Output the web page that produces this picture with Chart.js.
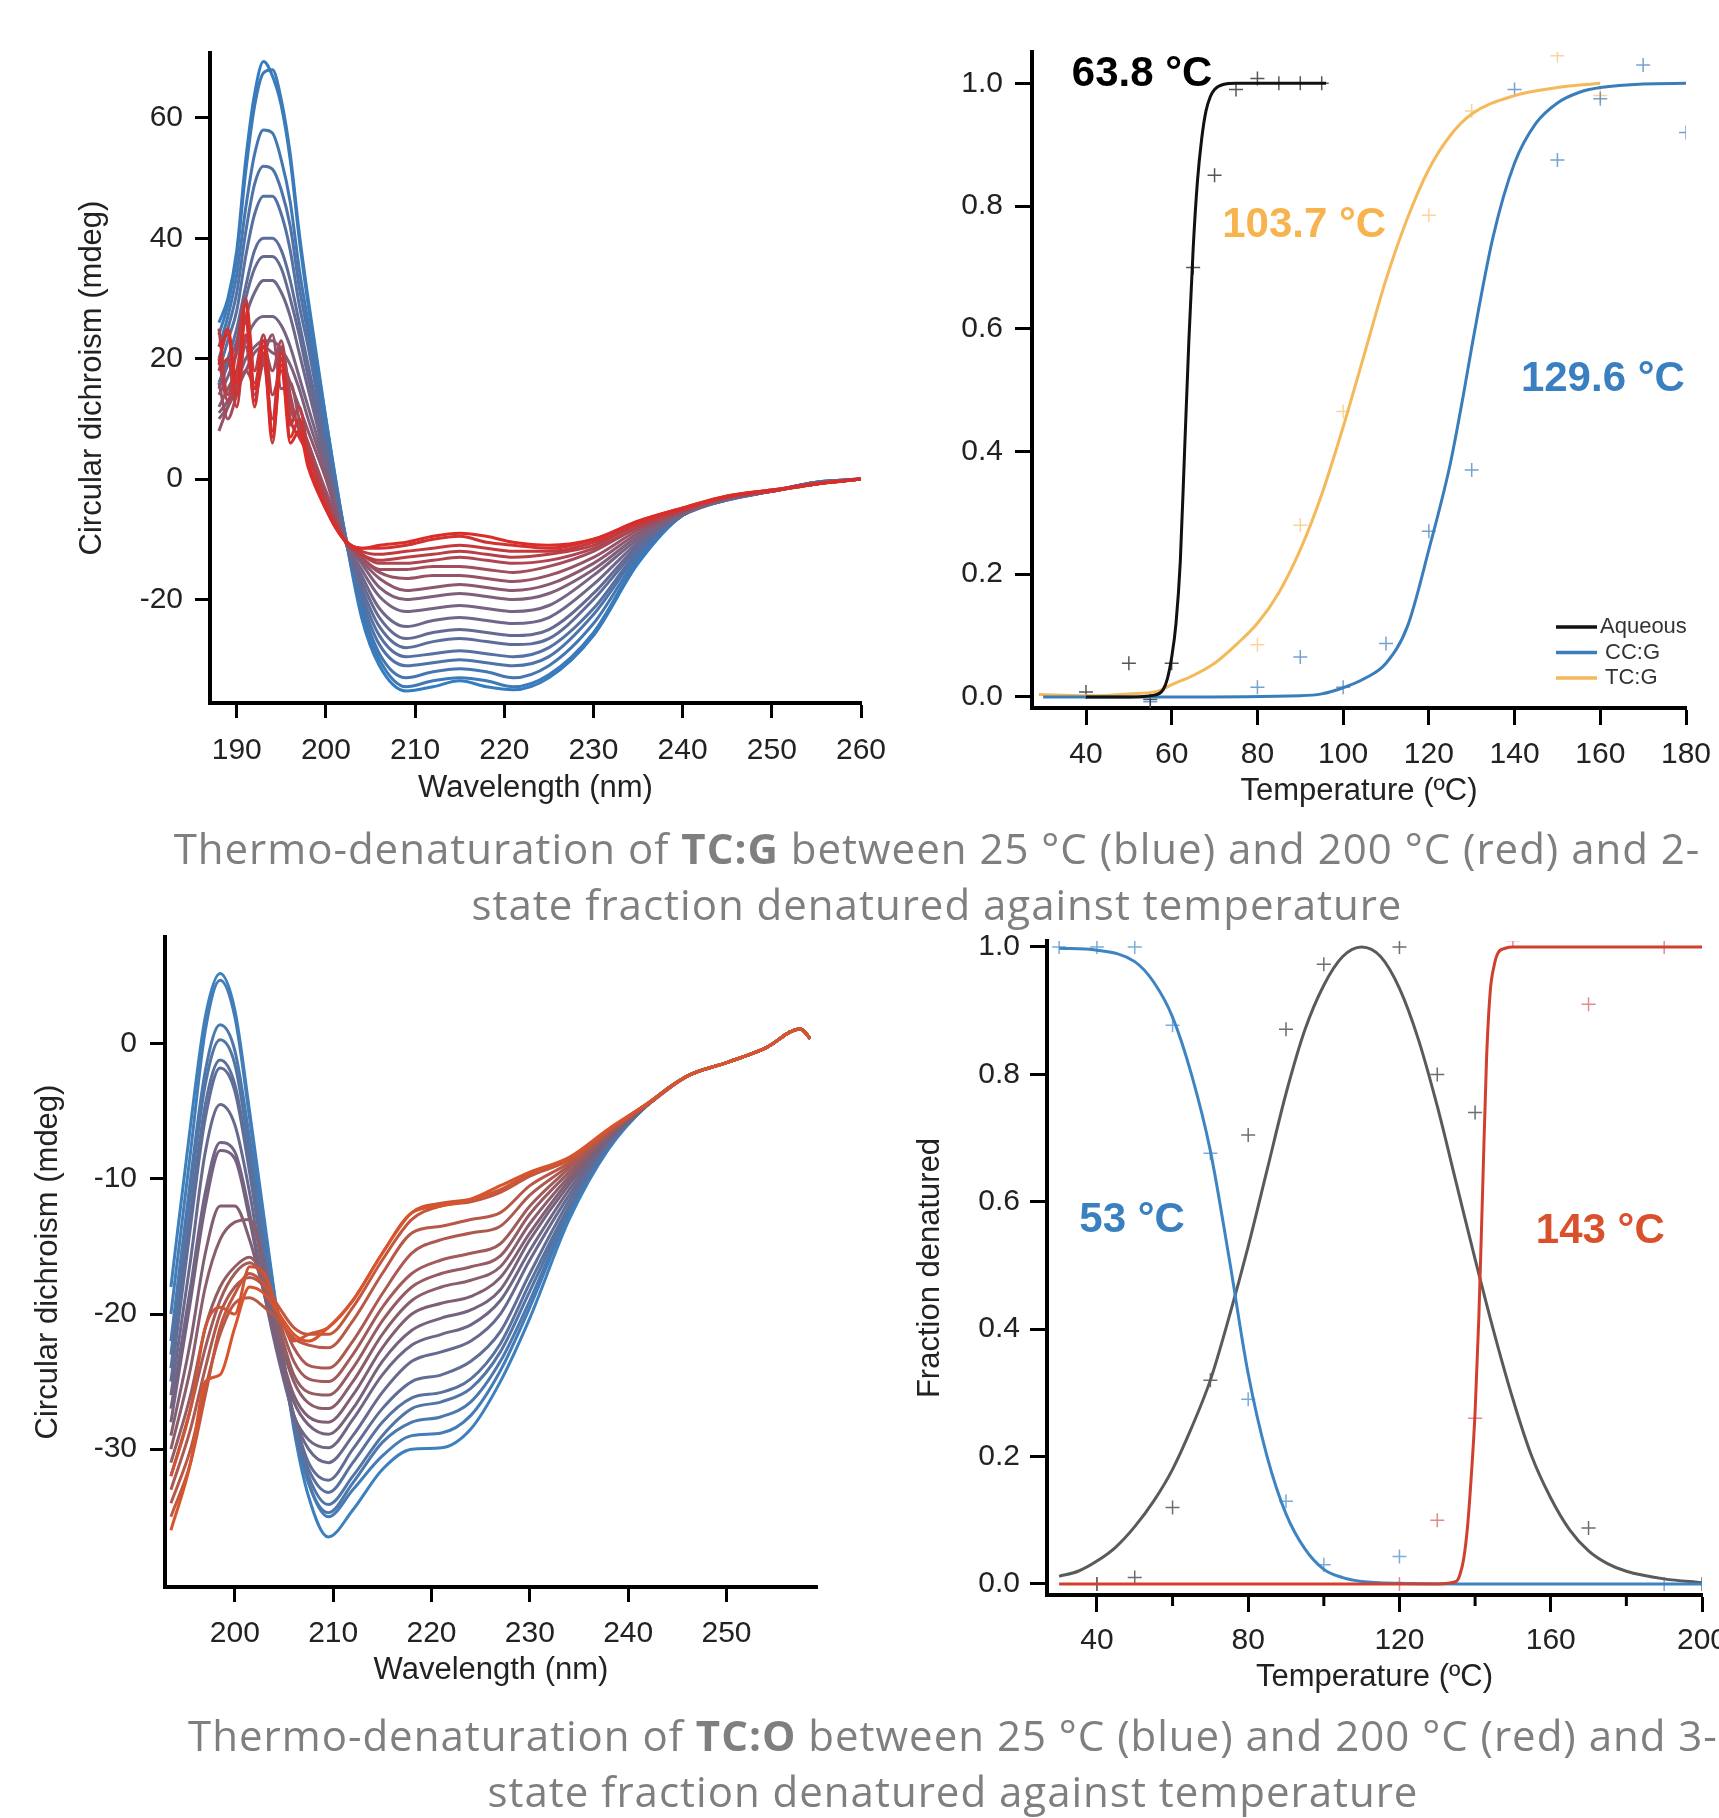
<!DOCTYPE html>
<html>
<head>
<meta charset="utf-8">
<script src="https://cdn.jsdelivr.net/npm/chart.js@4.4.1/dist/chart.umd.min.js"></script>
<style>
  html, body { margin: 0; padding: 0; background: #fff; overflow: hidden; }
  body { position: relative; width: 1719px; height: 1818px; }
  canvas { position: absolute; }
  .caption {
    position: absolute; left: 0; text-align: center; white-space: nowrap;
    font-family: "Open Sans", "Noto Sans", sans-serif; font-size: 42px; line-height: 56px;
    letter-spacing: 1px; color: #7f7f7f;
  }
  .caption b { font-weight: 700; }
</style>
</head>
<body>
<canvas id="tcgSpectraChart" width="900" height="810" style="left:0;top:0"></canvas>
<canvas id="tcgMeltChart" width="819" height="810" style="left:900px;top:0"></canvas>
<canvas id="tcoSpectraChart" width="850" height="810" style="left:0;top:900px"></canvas>
<canvas id="tcoMeltChart" width="839" height="810" style="left:880px;top:900px"></canvas>

<div class="caption" style="top:820px;width:1874px">Thermo-denaturation of <b>TC:G</b> between 25 °C (blue) and 200 °C (red) and 2-<br>state fraction denatured against temperature</div>
<div class="caption" style="top:1707px;width:1906px">Thermo-denaturation of <b>TC:O</b> between 25 °C (blue) and 200 °C (red) and 3-<br>state fraction denatured against temperature</div>

<script>
// ---- TC:G CD spectra (25 °C blue -> 200 °C red) ----
const tcgWavelengths = [188,189,190,191,192,193,194,195,196,197,198,200,202,204,206,209,212,215,218,221,225,230,235,240,245,250,255,260];
const tcgSpectra = [
  [26,30,38,53,64,69.4,67,62,53,40,29,10,-8,-23,-31,-35.2,-34.5,-33.5,-34.5,-35,-33,-26,-14,-6,-3.5,-2,-0.5,0],
  [24,29,37,51,62,67.5,68,63,54,41,30,10,-8,-22,-30,-34.5,-33.5,-33,-33.5,-34.5,-32.5,-25.5,-13.5,-6,-3.5,-2,-0.5,0],
  [22,27,34,45,54,58,57.5,53,46,35,26,8,-8,-21,-29,-33,-32,-31.5,-32,-33,-31,-24,-13,-6,-3.4,-2,-0.5,0],
  [20,25,31,41,49,52,51.5,48,42,32,24,7,-8.5,-20,-27.5,-31,-30.5,-30,-30.5,-31,-29.5,-22.5,-12.5,-6,-3.4,-2,-0.5,0],
  [18,23,28,37,44,47,47,44,38,29,22,6,-9,-19,-26,-29.5,-29,-28.5,-29,-29.5,-28,-21.5,-12,-6,-3.4,-2,-0.6,0],
  [16,20,25,32,38,40,40,38,33,26,19,5,-9,-18,-24.5,-28,-27,-26.5,-27,-27.5,-26.5,-20,-11.5,-6,-3.4,-2,-0.6,0],
  [15,19,23,30,35,37,37,35,30,24,17,4,-9.5,-17,-23,-26.5,-25.5,-25,-25.5,-26,-25,-19,-11,-6,-3.4,-2,-0.6,0],
  [14,17,21,27,31,33,33,31,27,21,15,3,-9.5,-16,-21.5,-24.5,-23.5,-23,-23.5,-24,-23,-17.5,-10.5,-5.8,-3.3,-2,-0.6,0],
  [12,15,18,23,26,27,27,25.5,22,17,12,2,-9.5,-15,-19.5,-22,-21.5,-21,-21.5,-22,-21,-16,-10,-5.7,-3.3,-2,-0.6,0],
  [11,13,16,20,22,23,23,21.5,19,15,10,1,-9.5,-14,-18,-20,-19.5,-19,-19.5,-20,-19,-15,-9.5,-5.6,-3.2,-2,-0.6,0],
  [10,12,15,18,21,22,21,20,16,12,8,0,-9.5,-13.5,-16.5,-18.5,-18,-17.5,-18,-18.5,-17.5,-14,-9,-5.5,-3.2,-2,-0.7,0],
  [8,12,16,22,14,20,24,15,16,10,6,-2,-9.5,-13,-15.5,-16.5,-16,-16,-16.5,-17,-16,-13,-8.5,-5.4,-3.1,-2,-0.8,0],
  [16,10,14,18,16,22,18,23,12,9,6,-3,-10,-13,-15,-15,-14.5,-14.5,-15,-15.5,-14.5,-12,-8,-5.3,-3,-2,-0.8,0],
  [20,13,18,26,15,19,10,22,14,8,5,-3.5,-10,-12.5,-14,-14,-13.5,-13,-13.5,-14,-13.5,-11.5,-8,-5.2,-3,-2,-0.8,0],
  [25,14,22,30,18,24,14,18,9,12,5,-4,-10,-12.5,-13.5,-13,-12.5,-12,-12.5,-13,-12.5,-11,-7.5,-5,-3,-2,-0.8,0],
  [18,20,12,24,13,21,6,20,10,7,4,-4.5,-10,-12,-12.5,-12,-11.5,-11,-11.5,-12,-12,-10.5,-7.5,-5,-2.9,-1.8,-0.8,0],
  [22,24,14,27,12,23,8,21,7,10,3,-5,-10,-11.5,-11.5,-11,-10,-9.5,-10.5,-11,-11.5,-10,-7,-4.8,-2.8,-1.8,-0.8,0],
  [19,25,16,29,15,22,7,19,6,8,2,-5,-10,-11.5,-11,-10.5,-9.5,-9,-9.5,-10.5,-11,-10,-7,-4.8,-2.8,-1.8,-0.8,0]
];
const tcgWlTicks = [190,200,210,220,230,240,250,260];
const tcgCdTicks = [-20,0,20,40,60];

// ---- TC:G / CC:G / aqueous 2-state melting ----
const aqueousFitT = [40,50,56,58,59,60,61,62,63,64,65,66,67,68,69,70,72,75,85,96];
const aqueousFitF = [0,0,0.003,0.012,0.03,0.065,0.12,0.22,0.4,0.58,0.73,0.84,0.91,0.955,0.978,0.99,0.998,1,1,1];
const aqueousPtsT = [40,50,55,60,65,70,75,80,85,90,95];
const aqueousPtsF = [0.008,0.055,-0.004,0.055,0.70,0.85,0.99,1.008,1.0,1.0,1.0];
const ccgFitT = [30,60,90,95,100,105,110,115,120,125,128,130,135,140,145,150,155,160,170,180];
const ccgFitF = [0,0,0.002,0.005,0.015,0.03,0.055,0.115,0.24,0.38,0.49,0.57,0.75,0.87,0.935,0.968,0.985,0.993,0.999,1];
const ccgPtsT = [55,80,90,100,110,120,130,140,150,160,170,180];
const ccgPtsF = [-0.008,0.016,0.065,0.016,0.087,0.27,0.37,0.99,0.875,0.975,1.03,0.92];
const tcgFitT = [29,40,50,57,60,65,70,75,80,85,90,95,100,105,110,115,120,125,130,140,150,160];
const tcgFitF = [0.004,0.002,0.005,0.01,0.02,0.035,0.055,0.085,0.12,0.17,0.24,0.33,0.44,0.56,0.68,0.78,0.86,0.915,0.95,0.98,0.993,1.0];
const tcgPtsT = [80,90,100,120,130,150,160];
const tcgPtsF = [0.085,0.28,0.465,0.785,0.955,1.045,0.98];
const meltTempTicksA = [40,60,80,100,120,140,160,180];
const fractionTicks = [0,0.2,0.4,0.6,0.8,1.0];

// ---- TC:O CD spectra ----
const tcoWavelengths = [193.5,195.5,197,198.5,200,201.5,203,204.5,206,207.5,209.5,212,215,218,221,224,227,230,234,238,242,246,250,254,257.5,258.5];
const tcoSpectra = [
  [-18,-6,2,5.2,2.5,-5,-13,-21,-28.5,-33.5,-36.5,-34.5,-31.5,-30,-29.9,-28.5,-25,-20.3,-13,-7.8,-4.5,-2.4,-1.4,-0.3,1.1,0.4],
  [-20,-8,1,4.7,2,-5.5,-13.5,-21,-28,-32.5,-35,-33,-30.5,-29,-28.8,-27.5,-24.2,-19.5,-12.6,-7.7,-4.5,-2.4,-1.4,-0.3,1.1,0.4],
  [-22,-10,-2,1.4,-0.5,-7,-14.5,-21.5,-28,-32.5,-34.7,-32.5,-29.5,-28,-27.6,-26.5,-23.5,-19,-12.4,-7.6,-4.5,-2.4,-1.4,-0.3,1.1,0.4],
  [-23,-11,-3,0.3,-1.5,-8,-15,-22,-28,-32,-34.1,-32,-29,-27,-26.5,-25.5,-22.8,-18.3,-12.2,-7.5,-4.5,-2.4,-1.4,-0.3,1.1,0.4],
  [-24,-12.5,-4.5,-1.2,-3,-9,-16,-22.5,-28,-31.5,-33.2,-31,-28,-26.2,-25.8,-24.8,-22.2,-17.7,-12,-7.4,-4.5,-2.4,-1.4,-0.3,1.1,0.4],
  [-25,-13.5,-5.5,-1.8,-3.5,-9.5,-16.5,-22.5,-27.5,-31,-32.3,-30,-27,-25,-24.5,-23.5,-21.3,-17,-11.6,-7.3,-4.5,-2.4,-1.4,-0.3,1.1,0.4],
  [-26,-16,-8,-4.5,-6,-11,-17.5,-23,-27.5,-30,-31,-29,-25.8,-23.5,-22.8,-22,-20,-16,-11.2,-7.2,-4.5,-2.4,-1.4,-0.3,1.1,0.4],
  [-27,-18,-11,-7.3,-8,-12.5,-18.5,-23.5,-27.5,-29.3,-29.9,-27.8,-24.5,-22.3,-21.5,-20.8,-19,-15.3,-10.8,-7.1,-4.5,-2.4,-1.4,-0.3,1.1,0.4],
  [-28,-19,-12,-7.9,-8.5,-13,-18.5,-23,-26.5,-28.2,-28.9,-27,-23.5,-21.2,-20.3,-19.7,-18.2,-14.5,-10.4,-7,-4.5,-2.4,-1.4,-0.3,1.1,0.4],
  [-29,-22,-15.5,-12,-12,-14.5,-18.5,-22.5,-26,-27.6,-28,-26,-22.5,-20,-19.2,-18.7,-17.3,-14,-10.1,-6.9,-4.5,-2.4,-1.4,-0.3,1.1,0.4],
  [-30,-24,-18,-14.5,-13.2,-13,-16.5,-21.5,-25,-26.6,-27,-25,-21.5,-19,-18,-17.5,-16.5,-13.3,-9.8,-6.8,-4.5,-2.4,-1.4,-0.3,1.1,0.4],
  [-31,-26,-21,-18,-16.5,-15.8,-17.5,-21,-24.5,-25.8,-26,-24,-20.5,-18,-17,-16.5,-15.7,-12.6,-9.5,-6.7,-4.5,-2.4,-1.4,-0.3,1.1,0.4],
  [-32,-27,-22.5,-19,-17,-16.2,-17.5,-20.5,-23.5,-24.8,-25,-23,-19.5,-17,-16,-15.5,-14.8,-12,-9.2,-6.6,-4.5,-2.4,-1.4,-0.3,1.1,0.4],
  [-33,-28.5,-24,-20,-18,-17.3,-18,-20,-22.5,-23.8,-24,-22,-18.5,-15.5,-14.5,-14,-13.5,-11.2,-9,-6.5,-4.4,-2.4,-1.4,-0.3,1.1,0.4],
  [-34,-30,-25.5,-21.5,-19.2,-18.8,-19.5,-20.5,-21.8,-22.3,-22.5,-20.5,-17,-14,-13.5,-13,-12.5,-10.5,-8.8,-6.5,-4.4,-2.4,-1.4,-0.3,1.1,0.4],
  [-35,-31,-26,-21,-18.5,-17,-17.8,-19.5,-21,-21.5,-21.5,-19.5,-16,-13,-12,-11.7,-11,-9.8,-8.6,-6.4,-4.4,-2.4,-1.4,-0.3,1.1,0.4],
  [-32,-27,-21,-19.5,-20,-16.5,-17,-20,-22,-21.5,-21,-19,-15.5,-12.5,-11.8,-11.5,-10.8,-9.6,-8.5,-6.4,-4.4,-2.4,-1.4,-0.3,1.1,0.4],
  [-36,-31,-25,-24.5,-21,-18,-18.5,-20,-21.5,-22,-21,-19,-15.5,-12.5,-12,-11.5,-10.5,-9.5,-8.4,-6.3,-4.4,-2.4,-1.4,-0.3,1.1,0.4]
];
const tcoWlTicks = [200,210,220,230,240,250];
const tcoCdTicks = [-30,-20,-10,0];

// ---- TC:O 3-state melting ----
const nativeFitT = [30,40,50,55,60,65,70,75,80,85,90,95,100,105,110,120,140,200];
const nativeFitF = [0.998,0.995,0.977,0.945,0.89,0.8,0.68,0.51,0.33,0.2,0.11,0.055,0.023,0.01,0.004,0.001,0,0];
const nativePtsT = [30,40,50,60,70,80,90,100,120,190];
const nativePtsF = [1.0,1.0,1.0,0.877,0.676,0.29,0.13,0.03,0.043,0.0];
const intermFitT = [30,35,40,45,50,55,60,65,70,75,80,85,90,95,100,105,110,115,120,125,130,135,140,145,150,155,160,165,170,175,180,190,200];
const intermFitF = [0.012,0.02,0.036,0.058,0.09,0.13,0.18,0.245,0.32,0.42,0.53,0.65,0.77,0.87,0.94,0.985,1.0,0.985,0.935,0.855,0.75,0.63,0.51,0.395,0.29,0.2,0.135,0.085,0.052,0.032,0.02,0.008,0.002];
const intermPtsT = [40,50,60,70,80,90,100,120,130,140,170,200];
const intermPtsF = [0.0,0.01,0.12,0.32,0.705,0.871,0.973,1.0,0.8,0.74,0.088,0.0];
const denatFitT = [30,130,135,136,137,138,139,140,141,142,143,144,145,146,148,150,200];
const denatFitF = [0,0,0.004,0.015,0.04,0.09,0.17,0.27,0.42,0.62,0.82,0.93,0.97,0.99,0.998,1,1];
const denatPtsT = [40,120,130,140,150,170,190];
const denatPtsF = [0.0,0.0,0.1,0.26,1.01,0.91,1.0];
const meltTempTicksB = [40,80,120,160,200];
const meltMinorTicksB = [60,100,140,180];

// ---------------------------------------------------------------
const FONT = '"Liberation Sans", Arial, Helvetica, sans-serif';
Chart.defaults.font.family = FONT;
Chart.defaults.color = '#222';

function mix(a, b, t) {
  return a.map((v, k) => Math.round(v + (b[k] - v) * t));
}
function rampColor(stops, t) {
  const c = t < 0.5 ? mix(stops[0], stops[1], t * 2) : mix(stops[1], stops[2], (t - 0.5) * 2);
  return `rgb(${c[0]},${c[1]},${c[2]})`;
}
function pts(xs, ys) {
  return xs.map((x, i) => ({x: x, y: ys[i]}));
}

function spectrumDatasets(wl, spectra, stops) {
  const n = spectra.length;
  return spectra.map((vals, i) => ({
    data: pts(wl, vals),
    borderColor: rampColor(stops, i / (n - 1)),
    borderWidth: 3,
    pointRadius: 0,
    showLine: true,
    cubicInterpolationMode: 'monotone',
    order: n - i
  }));
}
function fitLine(xs, ys, color) {
  return {data: pts(xs, ys), borderColor: color, borderWidth: 3, pointRadius: 0,
          showLine: true, cubicInterpolationMode: 'monotone', order: 1};
}
function crosses(xs, ys, color) {
  return {data: pts(xs, ys), showLine: false, pointStyle: 'cross', pointRadius: 7,
          borderColor: color, borderWidth: 1.5, backgroundColor: color, order: 2};
}

function xAxis(o) {
  return {
    type: 'linear', min: o.min, max: o.max,
    border: {display: true, color: '#000', width: 4},
    grid: {drawOnChartArea: false, drawTicks: true, tickLength: o.tickLen || 15, tickWidth: 3, tickColor: '#000'},
    ticks: {font: {size: 30}, color: '#222', padding: o.pad, autoSkip: false, maxRotation: 0, minRotation: 0,
            callback: v => o.fmt ? o.fmt(v) : String(v)},
    title: {display: true, text: o.title, font: {size: 31}, color: '#222', padding: {top: 0, bottom: o.titlePad}},
    afterBuildTicks: s => { s.ticks = o.ticks.map(v => ({value: v})); },
    afterFit: s => { s.height = o.height; s.paddingLeft = 0; s.paddingRight = 0; }
  };
}
function yAxis(o) {
  return {
    type: 'linear', min: o.min, max: o.max,
    border: {display: true, color: '#000', width: 4},
    grid: {drawOnChartArea: false, drawTicks: true, tickLength: o.tickLen || 15, tickWidth: 3, tickColor: '#000'},
    ticks: {font: {size: 30}, color: '#222', padding: o.pad, autoSkip: false,
            callback: v => o.fmt ? o.fmt(v) : String(v)},
    title: {display: !!o.title, text: o.title || '', font: {size: 31}, color: '#222', padding: {top: o.titlePad || 0, bottom: 0}},
    afterBuildTicks: s => { s.ticks = o.ticks.map(v => ({value: v})); },
    afterFit: s => { s.width = o.width; s.paddingTop = 0; s.paddingBottom = 0; }
  };
}

// annotation text, small legend and minor ticks drawn over the plot
const panelExtras = {
  id: 'panelExtras',
  afterDatasetsDraw(chart, args, opts) {
    const {ctx, chartArea, scales: {x, y}} = chart;
    ctx.save();
    (opts.labels || []).forEach(l => {
      ctx.font = `bold ${l.size}px ${FONT}`;
      ctx.fillStyle = l.color;
      ctx.textAlign = 'center';
      ctx.textBaseline = 'middle';
      ctx.fillText(l.text, x.getPixelForValue(l.x), y.getPixelForValue(l.y));
    });
    if (opts.legend) {
      const lg = opts.legend;
      ctx.font = `22px ${FONT}`;
      ctx.textAlign = 'left';
      ctx.textBaseline = 'middle';
      lg.items.forEach((it, k) => {
        const yy = chartArea.bottom - lg.bottom + k * 25.5;
        const x0 = chartArea.right - lg.right;
        ctx.strokeStyle = it.color;
        ctx.lineWidth = 3.5;
        ctx.beginPath();
        ctx.moveTo(x0, yy);
        ctx.lineTo(x0 + 41, yy);
        ctx.stroke();
        ctx.fillStyle = '#333';
        ctx.fillText(it.text, x0 + 44 + (k ? 5 : 0), yy);
      });
    }
    if (opts.minorTicks) {
      ctx.strokeStyle = '#000';
      ctx.lineWidth = 3;
      opts.minorTicks.forEach(v => {
        const px = x.getPixelForValue(v);
        ctx.beginPath();
        ctx.moveTo(px, chartArea.bottom);
        ctx.lineTo(px, chartArea.bottom + 11);
        ctx.stroke();
      });
    }
    ctx.restore();
  }
};

function buildChart(id, datasets, padding, xs, ys, extras) {
  return new Chart(document.getElementById(id), {
    type: 'scatter',
    data: {datasets: datasets},
    options: {
      responsive: false, animation: false, devicePixelRatio: 1, events: [],
      layout: {padding: padding},
      plugins: {legend: {display: false}, tooltip: {enabled: false}, panelExtras: extras || {}},
      scales: {x: xs, y: ys}
    },
    plugins: [panelExtras]
  });
}

const fix1 = v => v.toFixed(1);

// top left: TC:G spectra
buildChart('tcgSpectraChart',
  spectrumDatasets(tcgWavelengths, tcgSpectra, [[52,125,192], [122,98,128], [220,44,40]]),
  {left: 0, top: 53, right: 39, bottom: 0},
  xAxis({min: 187, max: 260, ticks: tcgWlTicks, title: 'Wavelength (nm)', height: 107, pad: 15, titlePad: 3}),
  yAxis({min: -37.2, max: 70.8, ticks: tcgCdTicks, title: 'Circular dichroism (mdeg)', width: 210, pad: 12, titlePad: 74})
);

// top right: 2-state fraction denatured
buildChart('tcgMeltChart',
  [
    crosses(tcgPtsT, tcgPtsF, 'rgba(246,190,105,0.65)'),
    crosses(ccgPtsT, ccgPtsF, 'rgba(70,130,190,0.75)'),
    crosses(aqueousPtsT, aqueousPtsF, 'rgba(30,30,30,0.75)'),
    fitLine(tcgFitT, tcgFitF, '#f4b95a'),
    fitLine(ccgFitT, ccgFitF, '#3a7dbb'),
    fitLine(aqueousFitT, aqueousFitF, '#111111')
  ].map((d, i, arr) => Object.assign(d, {order: arr.length - i})),
  {left: 0, top: 52, right: 33, bottom: 0},
  xAxis({min: 27.4, max: 180, ticks: meltTempTicksA, title: 'Temperature (ºC)', height: 102, pad: 12, titlePad: 0, tickLen: 17}),
  yAxis({min: -0.018, max: 1.051, ticks: fractionTicks, width: 132, pad: 12, tickLen: 17, fmt: fix1}),
  {
    labels: [
      {text: '63.8 °C', x: 53.1, y: 1.014, color: '#000000', size: 42},
      {text: '103.7 °C', x: 90.9, y: 0.768, color: '#f7b44e', size: 42},
      {text: '129.6 °C', x: 160.6, y: 0.518, color: '#3a7fc0', size: 42}
    ],
    legend: {right: 130, bottom: 81, items: [
      {text: 'Aqueous', color: '#111111'},
      {text: 'CC:G', color: '#3a7dbb'},
      {text: 'TC:G', color: '#f4b95a'}
    ]}
  }
);

// bottom left: TC:O spectra
buildChart('tcoSpectraChart',
  spectrumDatasets(tcoWavelengths, tcoSpectra, [[60,128,190], [122,96,122], [216,84,44]]),
  {left: 0, top: 37, right: 33, bottom: 0},
  xAxis({min: 192.9, max: 259.2, ticks: tcoWlTicks, title: 'Wavelength (nm)', height: 123, pad: 14, titlePad: 21}),
  yAxis({min: -40.2, max: 7.9, ticks: tcoCdTicks, title: 'Circular dichroism (mdeg)', width: 165, pad: 13, titlePad: 30})
);

// bottom right: 3-state fraction denatured
buildChart('tcoMeltChart',
  [
    crosses(denatPtsT, denatPtsF, 'rgba(215,90,90,0.7)'),
    crosses(nativePtsT, nativePtsF, 'rgba(90,150,210,0.8)'),
    crosses(intermPtsT, intermPtsF, 'rgba(60,60,60,0.75)'),
    fitLine(intermFitT, intermFitF, '#5a5a5a'),
    fitLine(nativeFitT, nativeFitF, '#3c84c2'),
    fitLine(denatFitT, denatFitF, '#d1402f')
  ].map((d, i, arr) => Object.assign(d, {order: arr.length - i})),
  {left: 0, top: 41, right: 17, bottom: 0},
  xAxis({min: 26.8, max: 200, ticks: meltTempTicksB, title: 'Temperature (ºC)', height: 115, pad: 11, titlePad: 14, tickLen: 17}),
  yAxis({min: -0.0173, max: 1.0094, ticks: fractionTicks, title: 'Fraction denatured', width: 167, pad: 10, titlePad: 32, tickLen: 17, fmt: fix1}),
  {
    labels: [
      {text: '53 °C', x: 49.3, y: 0.571, color: '#3a80c0', size: 42},
      {text: '143 °C', x: 173.1, y: 0.554, color: '#d9502c', size: 42}
    ],
    minorTicks: meltMinorTicksB
  }
);
</script>
</body>
</html>
